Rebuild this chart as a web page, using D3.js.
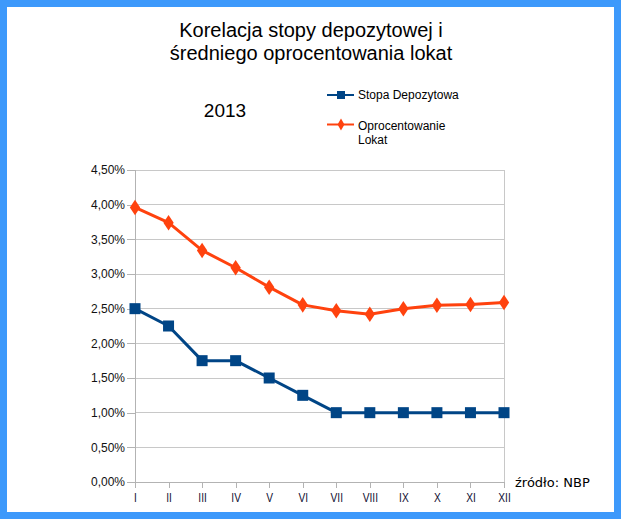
<!DOCTYPE html>
<html><head><meta charset="utf-8">
<script src="https://cdn.jsdelivr.net/npm/d3@7"></script>
<style>body{margin:0;background:#fff}svg{display:block}</style>
</head><body>
<svg id="c" width="621" height="519"></svg>
<script>
const months = ["I","II","III","IV","V","VI","VII","VIII","IX","X","XI","XII"];
const stopaDepozytowa = [2.5, 2.25, 1.75, 1.75, 1.5, 1.25, 1.0, 1.0, 1.0, 1.0, 1.0, 1.0];
const oprocentowanieLokat = [3.96, 3.74, 3.34, 3.09, 2.81, 2.555, 2.47, 2.42, 2.50, 2.55, 2.56, 2.59];
const yTicks = [0, 0.5, 1, 1.5, 2, 2.5, 3, 3.5, 4, 4.5];
const titleLines = ["Korelacja stopy depozytowej i", "średniego oprocentowania lokat"];
const seriesNames = ["Stopa Depozytowa", ["Oprocentowanie", "Lokat"]];

const svg = d3.select("#c");
const W = 621, H = 519;
// frame
svg.append("rect").attr("x",0).attr("y",0).attr("width",W).attr("height",H).attr("fill","#3d99fb");
svg.append("rect").attr("x",7).attr("y",7).attr("width",607).attr("height",505).attr("fill","#fff");

const x = d3.scalePoint().domain(months).range([135, 504]);
const y = d3.scaleLinear().domain([0, 4.5]).range([482, 170]);
const font = "'Liberation Sans', Arial, sans-serif";

// gridlines
svg.append("g").selectAll("line").data(yTicks).join("line")
  .attr("x1",135).attr("x2",504).attr("y1",d=>y(d)).attr("y2",d=>y(d))
  .attr("stroke","#c8c8c8").attr("stroke-width",1).attr("shape-rendering","crispEdges");
svg.append("line").attr("x1",504).attr("x2",504).attr("y1",170).attr("y2",482)
  .attr("stroke","#c8c8c8").attr("shape-rendering","crispEdges");

// y axis
const yAxis = d3.axisLeft(y).tickValues(yTicks).tickSize(8).tickPadding(2)
  .tickFormat(d => d3.format(".2f")(d).replace(".", ",") + "%");
const gy = svg.append("g").attr("transform","translate(135,0)").call(yAxis);
gy.select(".domain").attr("stroke","#b3b3b3");
gy.selectAll(".tick line").attr("stroke","#b3b3b3");
gy.selectAll("text").attr("font-family",font).attr("font-size",12).attr("fill","#111");
gy.selectAll("path,line").attr("shape-rendering","crispEdges");

// x axis
const xAxis = d3.axisBottom(x).tickSize(6).tickSizeOuter(0).tickPadding(5);
const gx = svg.append("g").attr("transform","translate(0,482)").call(xAxis);
gx.select(".domain").attr("stroke","#b3b3b3");
gx.selectAll(".tick line").attr("stroke","#b3b3b3");
gx.selectAll(".tick text").attr("font-family",font).attr("font-size",12).attr("fill","#111133")
  .attr("transform","scale(0.85,1)");
gx.selectAll("path,line").attr("shape-rendering","crispEdges");

// lines
const line = d3.line().x((d,i)=>x(months[i])).y(d=>y(d));
const colors = ["#004586", "#ff420e"];
svg.append("path").datum(oprocentowanieLokat).attr("d",line).attr("fill","none")
  .attr("stroke",colors[1]).attr("stroke-width",3).attr("stroke-linejoin","round");
svg.append("g").selectAll("path").data(oprocentowanieLokat).join("path")
  .attr("d", d3.symbol(d3.symbolDiamond, 70)())
  .attr("transform",(d,i)=>`translate(${x(months[i])},${y(d)}) scale(1.15,1)`)
  .attr("fill",colors[1]);
svg.append("path").datum(stopaDepozytowa).attr("d",line).attr("fill","none")
  .attr("stroke",colors[0]).attr("stroke-width",3).attr("stroke-linejoin","round");
svg.append("g").selectAll("rect").data(stopaDepozytowa).join("rect")
  .attr("x",(d,i)=>x(months[i])-5.5).attr("y",d=>y(d)-5.5).attr("width",11).attr("height",11)
  .attr("fill",colors[0]);

// title
svg.append("g").selectAll("text").data(titleLines).join("text")
  .attr("x",311).attr("y",(d,i)=>36.5+i*23.5).attr("text-anchor","middle")
  .attr("font-family",font).attr("font-size",20).attr("fill","#000").text(d=>d);

svg.append("text").attr("x",225).attr("y",117).attr("text-anchor","middle")
  .attr("font-family",font).attr("font-size",19).attr("fill","#000").text("2013");

// legend
const lg = svg.append("g");
lg.append("line").attr("x1",327).attr("x2",354).attr("y1",95).attr("y2",95).attr("stroke",colors[0]).attr("stroke-width",2);
lg.append("rect").attr("x",337).attr("y",91).attr("width",8).attr("height",8).attr("fill",colors[0]);
lg.append("text").attr("x",358).attr("y",99).attr("font-family",font).attr("font-size",12).attr("fill","#000").text(seriesNames[0]);
lg.append("line").attr("x1",327).attr("x2",354).attr("y1",124.5).attr("y2",124.5).attr("stroke",colors[1]).attr("stroke-width",2);
lg.append("path").attr("d",d3.symbol(d3.symbolDiamond,40)()).attr("transform","translate(341,124.5)").attr("fill",colors[1]);
lg.append("text").attr("font-family",font).attr("font-size",12).attr("fill","#000")
  .selectAll("tspan").data(seriesNames[1]).join("tspan")
  .attr("x",358).attr("y",(d,i)=>129.5+i*14).text(d=>d);

// source
svg.append("text").attr("x",515).attr("y",486.5).attr("font-family","'DejaVu Sans', sans-serif")
  .attr("font-size",13).attr("fill","#000").text("źródło: NBP");
</script>
</body></html>
